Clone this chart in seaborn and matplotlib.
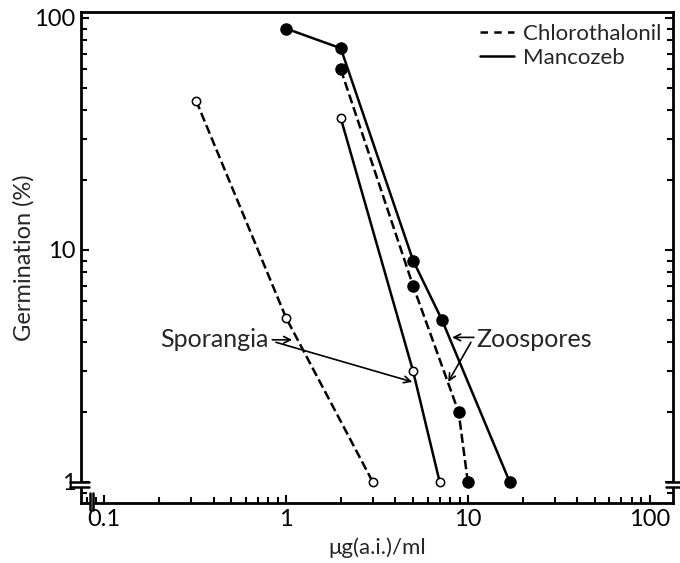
import matplotlib
matplotlib.use("Agg")
import matplotlib.pyplot as plt
import matplotlib.transforms as mtransforms
from matplotlib.lines import Line2D
import seaborn as sns
import pandas as pd

sns.set_theme(style="ticks")
plt.rcParams['font.family'] = ['Lato', 'DejaVu Sans']

# Data (µg a.i./ml vs germination %)
chl_spor_x = [0.32, 1.0, 3.0]
chl_spor_y = [44, 5.1, 1.0]
man_spor_x = [2.0, 5.0, 7.0]
man_spor_y = [37, 3.0, 1.0]
chl_zoo_x = [2.0, 5.0, 8.9, 10.0]
chl_zoo_y = [60, 7.0, 2.0, 1.0]
man_zoo_x = [1.0, 2.0, 5.0, 7.2, 17.0]
man_zoo_y = [90, 74, 9.0, 5.0, 1.0]

x_ticks = [0.1, 1, 10, 100]
x_ticklabels = ["0.1", "1", "10", "100"]
y_ticks = [1, 10, 100]
y_ticklabels = ["1", "10", "100"]

fig = plt.figure(figsize=(6.8, 5.63), dpi=100)
ax = fig.add_axes([0.119, 0.1066, 0.871, 0.872])

series = [
    (chl_spor_x, chl_spor_y, "dashed", False),
    (man_spor_x, man_spor_y, "solid", False),
    (chl_zoo_x, chl_zoo_y, "dashed", True),
    (man_zoo_x, man_zoo_y, "solid", True),
]
for xs, ys, ls, filled in series:
    df = pd.DataFrame({"x": xs, "y": ys})
    sns.lineplot(data=df, x="x", y="y", ax=ax, color="black", lw=1.8,
                 linestyle=ls, dashes=(4, 2.6) if ls == "dashed" else "",
                 marker="o", markersize=8 if filled else 6,
                 markerfacecolor="black" if filled else "white",
                 markeredgecolor="black", markeredgewidth=1.0 if filled else 1.1,
                 estimator=None, sort=False)

ax.set_xscale("log")
ax.set_yscale("log")
ax.set_xlim(0.0744, 134.8)
ax.set_ylim(0.812, 106)
ax.set_xticks(x_ticks)
ax.set_xticklabels(x_ticklabels)
ax.set_yticks(y_ticks)
ax.set_yticklabels(y_ticklabels)
ax.tick_params(which="both", direction="in", top=False, right=True,
               labelsize=17, width=1.5, colors="black")
ax.tick_params(which="major", length=6, pad=4)
ax.tick_params(which="minor", length=4)
for s in ax.spines.values():
    s.set_linewidth(2)
    s.set_color("black")

ax.set_xlabel("μg(a.i.)/ml", fontsize=16, labelpad=6)
ax.set_ylabel("Germination (%)", fontsize=17, labelpad=0)

# Legend
handles = [Line2D([], [], color="black", lw=1.8, linestyle=(0, (3, 2.5))),
           Line2D([], [], color="black", lw=1.8, linestyle="solid")]
ax.legend(handles, ["Chlorothalonil", "Mancozeb"], loc="upper right",
          frameon=False, fontsize=16, handlelength=1.5, handletextpad=0.4,
          labelspacing=0.15, borderaxespad=0.15)

# Annotations
arrow = dict(arrowstyle="->", color="black", lw=1.2, shrinkA=0, shrinkB=0)
ax.text(0.80, 4.1, "Sporangia", ha="right", va="center", fontsize=18)
ax.annotate("", xy=(1.08, 4.1), xytext=(0.84, 4.1), arrowprops=arrow)
ax.annotate("", xy=(4.95, 2.7), xytext=(0.88, 4.0), arrowprops=arrow)
ax.text(11.2, 4.1, "Zoospores", ha="left", va="center", fontsize=18)
ax.annotate("", xy=(8.2, 4.2), xytext=(10.8, 4.2), arrowprops=arrow)
ax.annotate("", xy=(7.8, 2.7), xytext=(10.4, 4.0), arrowprops=arrow)

# Axis break marks
ty = mtransforms.blended_transform_factory(ax.transAxes, ax.transData)
tx = mtransforms.blended_transform_factory(ax.transData, ax.transAxes)
for xa0, xa1 in [(-0.018, 0.014), (0.988, 1.02)]:
    ax.fill_between([xa0 + 0.006, xa1 - 0.006], [0.958, 0.958], [0.992, 0.992],
                    transform=ty, color="white", clip_on=False, zorder=5)
    for yv in (1.0, 0.955):
        ax.plot([xa0, xa1], [yv, yv], transform=ty, color="black", lw=1.8,
                clip_on=False, zorder=6)
ax.fill_betweenx([-0.01, 0.01], [0.0835, 0.0835], [0.0865, 0.0865],
                 transform=tx, color="white", clip_on=False, zorder=5)
for xv in (0.083, 0.087):
    ax.plot([xv, xv], [-0.015, 0.02], transform=tx, color="black", lw=1.8,
            clip_on=False, zorder=6)

fig.savefig("out.png", dpi=100)
